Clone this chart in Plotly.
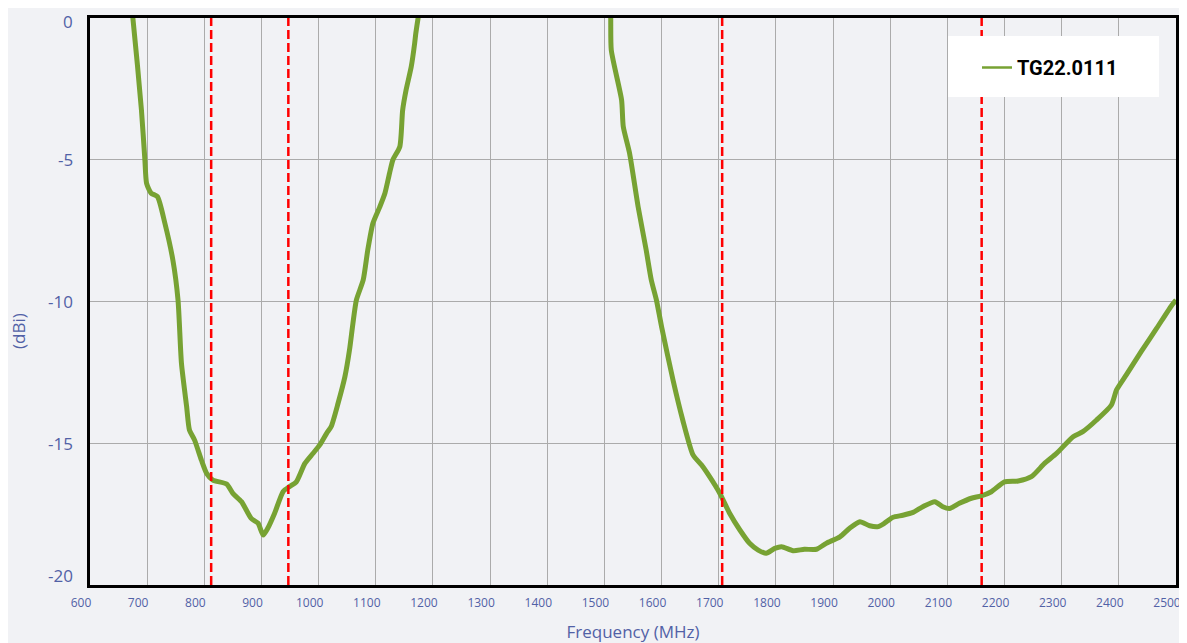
import plotly.graph_objects as go

# Gain curve TG22.0111 (MHz, dBi) – two visible segments, gap where curve exceeds 0 dBi
freq_low = [672, 675, 690, 696, 699, 707, 718, 731, 745, 754, 760, 769, 774, 783, 795, 804,
            815, 839, 850, 865, 882, 894, 903, 911, 923, 938, 949, 961, 976, 990, 1002,
            1014, 1022, 1034, 1046, 1054, 1060, 1066, 1078, 1086, 1095, 1107, 1116, 1124,
            1130, 1142, 1147, 1153, 1162, 1168, 1170, 1174, 1177]
gain_low = [0.4, 0.0, -3.25, -5.0, -5.83, -6.18, -6.3, -7.24, -8.54, -9.95, -12.18, -13.7,
            -14.53, -14.89, -15.6, -16.06, -16.3, -16.44, -16.77, -17.06, -17.65, -17.82,
            -18.24, -18.0, -17.47, -16.7, -16.53, -16.36, -15.71, -15.36, -15.06, -14.65,
            -14.41, -13.59, -12.65, -11.71, -10.77, -9.95, -9.24, -8.18, -7.24, -6.66,
            -6.18, -5.48, -5.0, -4.54, -3.25, -2.54, -1.72, -0.89, -0.54, 0.0, 0.4]

freq_high = [1510, 1511, 1512, 1530, 1533, 1544, 1559, 1573, 1582, 1591, 1600, 1620, 1637,
             1655, 1670, 1684, 1702, 1719, 1737, 1754, 1769, 1783, 1798, 1810, 1830, 1850,
             1871, 1888, 1912, 1929, 1947, 1964, 1979, 1990, 2005, 2022, 2040, 2057, 2078,
             2092, 2104, 2121, 2142, 2159, 2177, 2200, 2224, 2247, 2270, 2291, 2320, 2337,
             2361, 2387, 2396, 2413, 2439, 2466, 2493, 2500]
gain_high = [0.4, 0.0, -1.13, -2.89, -3.83, -4.77, -6.66, -8.18, -9.24, -9.95, -10.89,
             -12.77, -14.18, -15.41, -15.77, -16.18, -16.77, -17.47, -18.06, -18.53,
             -18.77, -18.88, -18.71, -18.65, -18.79, -18.74, -18.74, -18.53, -18.3, -18.0,
             -17.77, -17.91, -17.94, -17.82, -17.61, -17.54, -17.44, -17.24, -17.06,
             -17.24, -17.3, -17.12, -16.94, -16.86, -16.71, -16.36, -16.33, -16.18,
             -15.71, -15.36, -14.77, -14.59, -14.18, -13.65, -13.12, -12.59, -11.77,
             -10.95, -10.12, -9.95]

# band edge markers (MHz)
band_edges = [812, 947, 1706, 2160]

x_ticks = list(range(600, 2501, 100))
y_ticks = [0, -5, -10, -15, -20]

bg = "#f1f2f5"
blue = "#5161a6"
green = "#77a233"

fig = go.Figure()

fig.add_trace(go.Scatter(
    x=freq_low + [None] + freq_high,
    y=gain_low + [None] + gain_high,
    mode="lines",
    line=dict(color=green, width=5, shape="spline", smoothing=0.6),
    name="TG22.0111",
    connectgaps=False,
    showlegend=False,
))
# legend entry with thinner sample line
fig.add_trace(go.Scatter(
    x=[None], y=[None], mode="lines",
    line=dict(color=green, width=2.5),
    name="TG22.0111",
))

for f in band_edges:
    fig.add_shape(type="line", xref="x", yref="paper", x0=f, x1=f, y0=0, y1=1,
                  line=dict(color="#ff0000", width=2.5, dash="9px,4px"), layer="above")

# white legend box (plot area is 1086 x 567 px, left 90, bottom 585 on the page)
fig.add_shape(type="rect", xref="paper", yref="paper",
              x0=(948 - 90) / 1086, x1=(1159 - 90) / 1086,
              y0=(585 - 97) / 567, y1=(585 - 36) / 567,
              fillcolor="white", line=dict(width=0), layer="above")

# y tick labels as annotations: top one nudged down, bottom one nudged up (as in the original)
for v in y_ticks:
    shift = -3 if v == y_ticks[0] else (10 if v == y_ticks[-1] else 0)
    fig.add_annotation(x=0, xref="paper", y=v, yref="y", text=str(v),
                       showarrow=False, xanchor="right", yanchor="middle",
                       xshift=-15, yshift=shift,
                       font=dict(size=17, color=blue, family="Open Sans"))

fig.add_annotation(x=(18 - 90) / 1086, xref="paper", y=(585 - 331) / 567, yref="paper",
                   text="(dBi)", textangle=-90, showarrow=False,
                   xanchor="center", yanchor="middle",
                   font=dict(size=17, color=blue, family="Open Sans"))

# page body has an 8px margin, so the figure is offset by 8px
fig.update_layout(
    width=1187, height=643,
    margin=dict(l=82, r=19, t=10, b=66),
    paper_bgcolor=bg,
    plot_bgcolor=bg,
    font=dict(family="Open Sans", color=blue),
    showlegend=True,
    legend=dict(
        x=(977 - 90) / 1086, y=(585 - 48) / 567, xanchor="left", yanchor="top",
        bgcolor="rgba(0,0,0,0)", borderwidth=0,
        font=dict(family="Roboto", size=20, color="black", weight="bold"),
        itemwidth=30,
    ),
    xaxis=dict(
        range=[600, 2500], tickvals=x_ticks, ticktext=[str(v) for v in x_ticks],
        showgrid=True, gridcolor="#ababab", gridwidth=1,
        showline=True, linecolor="black", linewidth=2.5, mirror=True,
        zeroline=False, tickfont=dict(size=12, color=blue),
        title=dict(text="Frequency (MHz)", font=dict(size=17, color=blue), standoff=16),
        ticks="", ticklabelstandoff=5, ticklabelshift=-9, automargin=False,
        ticklabeloverflow="allow",
    ),
    yaxis=dict(
        range=[-20, 0], tickvals=y_ticks, showticklabels=False,
        showgrid=True, gridcolor="#ababab", gridwidth=1,
        showline=True, linecolor="black", linewidth=2.5, mirror=True,
        zeroline=False, ticks="", automargin=False,
    ),
)

fig.write_html("out.html")
